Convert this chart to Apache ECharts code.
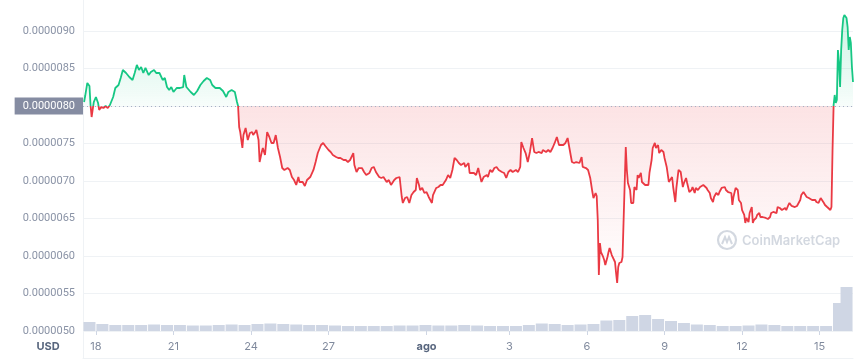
<!DOCTYPE html>
<html><head><meta charset="utf-8">
<script src="https://cdn.jsdelivr.net/npm/echarts@6/dist/echarts.min.js"></script>
<style>html,body{margin:0;padding:0;background:#fff}#c{width:866px;height:360px}</style>
</head><body><div id="c"></div>
<script>
// hours since 18 Jul 00:00
const hours = [-11,-10,-8,-6,-5,-4,-2,0,2,3,5,7,9,11,13,16,18,21,23,25,28,31,34,36,38,40,42,44,46,49,51,54,56,59,62,64,66,68,70,72,75,78,81,82,84,88,91,94,97,100,103,106,108,111,115,118,121,123,126,129,131,132,133,134,136,137,139,141,143,145,146,148,149,151,152,154,155,157,159,161,163,165,167,169,171,173,175,178,180,182,184,186,188,189,192,194,196,199,200,202,204,206,209,211,213,216,218,220,223,225,227,230,232,234,236,239,240,242,244,247,249,251,254,256,258,260,263,265,267,270,272,274,277,279,282,284,285,287,289,291,293,295,297,298,300,301,303,305,307,309,312,313,316,318,320,322,325,327,329,331,333,335,337,339,342,343,346,347,349,351,353,355,356,358,360,363,364,366,368,370,372,374,377,379,381,383,385,387,390,392,394,395,397,399,401,403,405,407,409,411,414,415,418,420,422,424,426,428,430,432,434,436,438,440,442,444,446,449,451,452,455,457,459,461,462,464,465,466,467,468,469,471,472,473,475,476,477,479,480,482,483,484,485,486,488,489,490,492,493,494,496,497,499,500,502,503,504,506,507,508,510,511,513,514,516,517,519,520,522,523,525,527,528,530,532,533,535,536,538,539,541,543,545,546,548,549,551,553,554,556,557,559,561,562,564,565,567,568,570,571,573,574,576,578,579,581,582,584,585,587,588,590,591,592,594,596,597,599,600,602,603,604,606,607,609,610,611,613,614,616,617,619,620,622,624,626,627,629,630,632,633,635,637,638,640,641,643,644,646,647,649,651,652,654,655,657,658,660,662,663,665,666,668,669,671,673,674,676,677,679,680,682,683,684,685,686,687,688,689,690,691,692,693,694,695,696,697,698,699,700,701,702,703];
// price in micro-USD (x 1e-6 USD)
const pricesMicroUsd = [8.053,8.133,8.307,8.267,8.013,7.853,8.053,8.12,8.04,7.947,7.987,7.973,8.0,7.973,8.013,8.12,8.24,8.28,8.373,8.48,8.44,8.387,8.347,8.44,8.547,8.48,8.52,8.44,8.507,8.413,8.453,8.48,8.44,8.44,8.347,8.373,8.253,8.213,8.253,8.187,8.24,8.24,8.253,8.413,8.253,8.187,8.147,8.2,8.28,8.333,8.373,8.347,8.28,8.24,8.24,8.2,8.12,8.187,8.213,8.187,8.053,8.0,7.72,7.653,7.44,7.613,7.707,7.547,7.64,7.653,7.613,7.653,7.68,7.547,7.253,7.387,7.44,7.347,7.653,7.587,7.507,7.507,7.613,7.44,7.32,7.173,7.147,7.173,7.147,7.053,7.013,6.947,7.053,6.987,6.987,6.933,7.013,7.053,7.04,7.147,7.253,7.373,7.48,7.507,7.467,7.413,7.387,7.347,7.32,7.307,7.307,7.28,7.28,7.253,7.28,7.373,7.213,7.12,7.173,7.173,7.12,7.08,7.107,7.173,7.187,7.12,7.053,7.04,7.053,6.987,7.013,6.947,7.013,7.04,7.053,6.787,6.707,6.773,6.787,6.707,6.813,6.853,6.88,7.04,6.947,6.88,6.907,6.84,6.853,6.787,6.707,6.813,6.907,6.92,6.947,6.947,7.013,7.08,7.04,7.147,7.307,7.28,7.24,7.213,7.24,7.187,7.24,7.107,7.107,7.107,7.08,7.173,7.107,6.987,7.053,7.08,7.053,7.147,7.12,7.173,7.187,7.147,7.12,7.107,7.04,7.12,7.147,7.12,7.147,7.12,7.187,7.52,7.44,7.373,7.253,7.387,7.573,7.387,7.373,7.387,7.373,7.413,7.387,7.413,7.387,7.44,7.507,7.587,7.48,7.48,7.48,7.507,7.573,7.413,7.253,7.24,7.253,7.24,7.32,7.187,7.173,7.147,7.04,6.853,6.773,6.84,6.8,6.48,5.747,6.173,6.053,5.987,5.947,5.88,5.987,6.053,6.107,6.013,5.987,5.92,5.773,5.64,5.853,5.907,5.92,5.987,6.48,7.453,7.147,6.973,6.88,6.707,6.707,6.92,6.88,7.08,7.04,7.107,6.987,7.013,6.947,6.973,6.947,7.107,7.28,7.44,7.507,7.44,7.48,7.373,7.413,7.387,7.307,7.187,6.987,7.013,7.053,6.92,6.72,6.907,7.147,7.12,6.92,6.973,7.04,6.973,6.853,6.88,6.92,6.84,6.907,6.88,6.92,6.907,6.947,6.947,6.907,6.88,6.84,6.773,6.72,6.787,6.84,6.813,6.853,6.907,6.907,6.92,6.88,6.853,6.853,6.84,6.68,6.787,6.907,6.88,6.747,6.707,6.613,6.547,6.44,6.507,6.453,6.573,6.653,6.44,6.48,6.507,6.547,6.573,6.52,6.52,6.507,6.507,6.493,6.52,6.573,6.587,6.587,6.573,6.653,6.64,6.613,6.6,6.64,6.613,6.68,6.707,6.667,6.68,6.653,6.667,6.68,6.747,6.813,6.853,6.84,6.787,6.773,6.787,6.747,6.773,6.747,6.72,6.707,6.773,6.747,6.707,6.68,6.653,6.64,6.613,6.653,7.413,8.013,8.147,8.04,8.08,8.747,8.587,8.253,8.747,9.013,9.173,9.213,9.187,9.173,9.053,8.747,8.92,8.84,8.52,8.32];
const volumeHours = [-6,6,18,30,42,54,66,78,90,102,114,126,138,150,162,174,186,198,210,222,234,246,258,270,282,294,306,318,330,342,354,366,378,390,402,414,426,438,450,462,474,486,498,510,522,534,546,558,570,582,594,606,618,630,642,654,666,678,690,697];
const volumes = [90,70,60,60,60,65,60,60,55,55,60,65,60,70,75,70,65,60,60,55,50,50,50,50,55,55,60,55,55,60,55,50,50,50,60,75,70,60,65,70,105,110,150,160,120,100,80,65,60,50,50,55,65,60,50,50,50,50,280,440];
const xTickHours = [0,72,144,216,307,384,456,528,600,672];
const xTickLabels = ['18','21','24','27','ago','3','6','9','12','15'];
const baseline = 8.0;

const chart = echarts.init(document.getElementById('c'), null, {renderer:'canvas'});
const maxV = Math.max(...pricesMicroUsd), minV = Math.min(...pricesMicroUsd);
const off = (maxV - baseline) / (maxV - minV);
const areaGrad = new echarts.graphic.LinearGradient(0,0,0,1,[
  {offset:0,color:'rgba(22,199,132,0.22)'},
  {offset:off,color:'rgba(22,199,132,0.03)'},
  {offset:off,color:'rgba(234,57,67,0.14)'},
  {offset:1,color:'rgba(234,57,67,0)'}]);
const labelMap = {}; xTickHours.forEach((h,i)=>{labelMap[h]=xTickLabels[i];});
const fontFamily = 'Inter, "Noto Sans", sans-serif';
const numFont = 'Roboto, "Noto Sans", sans-serif';
const frameColor = '#eff2f5';
const option = {
  animation:false,
  grid:[
    {left:83,right:13,top:31,bottom:29},
    {left:83,right:13,bottom:29,height:60},
    {left:83,right:13,top:0,bottom:2}
  ],
  xAxis:[
    {gridIndex:0,type:'value',min:-12,max:703,splitLine:{show:false},axisLine:{show:false},
     axisTick:{show:true,customValues:xTickHours,length:4,lineStyle:{color:'#cfd6e4'}},
     axisLabel:{customValues:xTickHours,margin:10,fontSize:11,color:'#808a9d',fontFamily,
       formatter:v=>{const t=labelMap[v]; return t==='ago'?'{m|ago}':(t||'');},
       rich:{m:{fontWeight:'bold',color:'#58667e',fontSize:11,fontFamily}}}},
    {gridIndex:1,type:'value',min:-12,max:703,show:false},
    {gridIndex:2,type:'value',min:0,max:1,axisLine:{show:true,lineStyle:{color:frameColor}},axisTick:{show:false},axisLabel:{show:false},splitLine:{show:false}}
  ],
  yAxis:[
    {gridIndex:0,type:'value',min:5,max:9,interval:0.5,axisLine:{show:false},axisTick:{show:false},
     splitLine:{lineStyle:{color:frameColor}},
     axisLabel:{margin:0,
       formatter:v=>{const s=(v/1e6).toFixed(7); return Math.abs(v-baseline)<1e-9?'{h|'+s+'}':'{n|'+s+'}';},
       rich:{n:{color:'#8a93a6',fontSize:11,fontFamily:numFont,padding:[3,8,3,8]},
             h:{color:'#ffffff',backgroundColor:'#858ca2',fontSize:11,fontFamily:numFont,padding:[3,8,3,8]}}}},
    {gridIndex:1,type:'value',min:0,max:600,show:false},
    {gridIndex:2,type:'value',min:0,max:1,axisLine:{show:true,lineStyle:{color:frameColor}},axisTick:{show:false},axisLabel:{show:false},splitLine:{show:false}}
  ],
  visualMap:{type:'piecewise',show:false,seriesIndex:1,dimension:1,
    pieces:[{gte:0,lt:baseline,color:'#ea3943'},{gte:baseline,lte:20,color:'#16c784'}]},
  series:[
    {type:'bar',xAxisIndex:1,yAxisIndex:1,data:volumeHours.map((h,i)=>[h,volumes[i]]),barWidth:12,
     clip:true,itemStyle:{color:'#cfd6e4'},silent:true,z:1},
    {type:'line',xAxisIndex:0,yAxisIndex:0,data:hours.map((h,i)=>[h,pricesMicroUsd[i]]),
     showSymbol:false,clip:false,lineStyle:{width:1.8},z:3,
     areaStyle:{origin:baseline,color:areaGrad,opacity:1},
     markLine:{silent:true,symbol:'none',label:{show:false},
       lineStyle:{color:'#a6b0c3',type:[1,3],width:1},data:[{yAxis:baseline}]}}
  ],
  graphic:[
    {type:'text',x:48,y:347,style:{text:'USD',align:'center',verticalAlign:'middle',fontSize:11,fontWeight:'bold',fill:'#58667e',fontFamily}},
    {type:'group',x:717,y:230,z:0,children:[
      {type:'circle',shape:{cx:10,cy:10,r:9},style:{fill:'none',stroke:'#d3d8e0',lineWidth:2.2}},
      {type:'polyline',shape:{points:[[5,14],[8,7],[10,12],[12,7],[15,14]]},style:{stroke:'#d3d8e0',lineWidth:2,fill:'none'}},
      {type:'text',x:25,y:11,style:{text:'CoinMarketCap',fontSize:13,fontWeight:600,fill:'#d3d8e0',fontFamily,verticalAlign:'middle'}}
    ]}
  ]
};
chart.setOption(option);
</script></body></html>
